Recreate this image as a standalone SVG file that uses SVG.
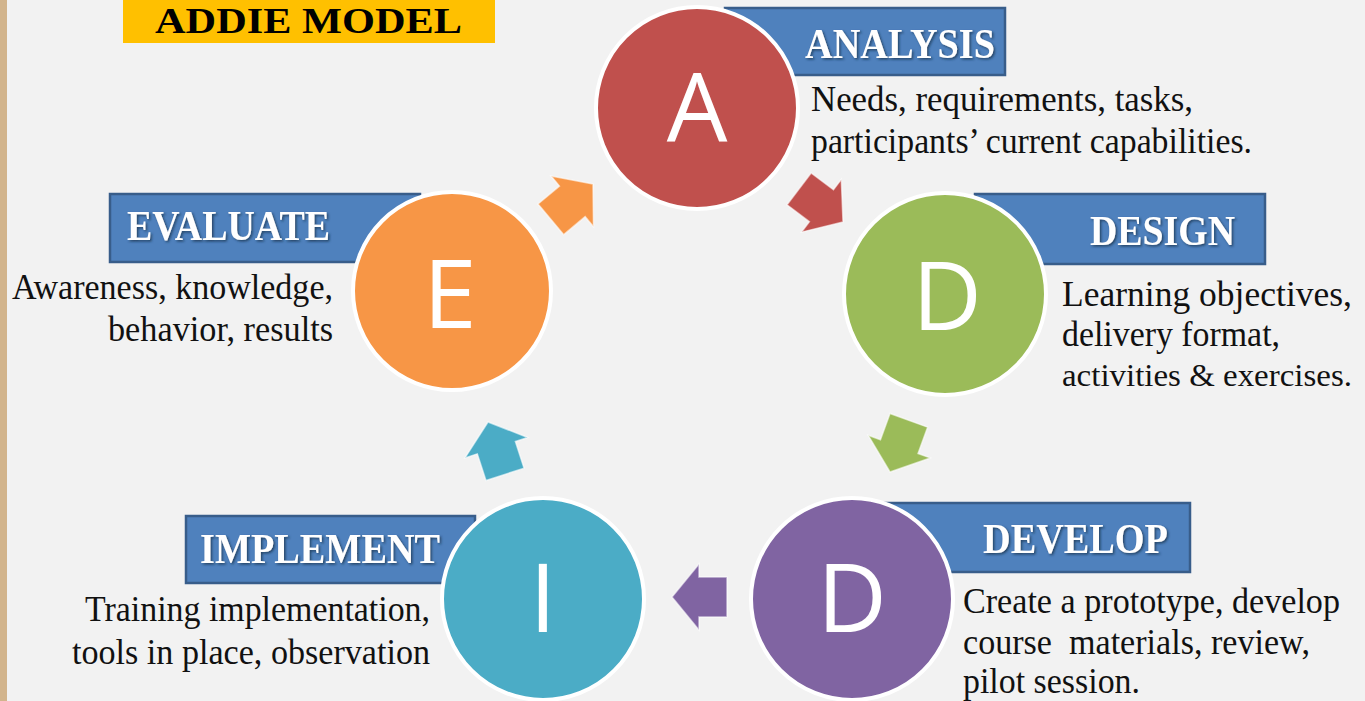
<svg xmlns="http://www.w3.org/2000/svg" width="1365" height="701" viewBox="0 0 1365 701">
<defs>
<style>
.banner{fill:#4f81bd;stroke:#385d8a;stroke-width:2.5}
.bt{font-family:"Liberation Serif","Times New Roman",serif;font-weight:bold;font-size:42px;fill:#ffffff;filter:url(#sh)}
.body{font-family:"Liberation Serif","Times New Roman",serif;font-size:36px;fill:#111111}
.circ{stroke:#ffffff;stroke-width:4}
.let{font-family:"Open Sans","Liberation Sans",sans-serif;font-size:96px;fill:#ffffff;text-anchor:middle}
.arr{stroke:#ffffff;stroke-width:1.5;stroke-opacity:0.6}
</style>
<filter id="sh" x="-10%" y="-20%" width="130%" height="150%">
<feDropShadow dx="1.5" dy="1.5" stdDeviation="1" flood-color="#1f3550" flood-opacity="0.8"/>
</filter>
<polygon id="arrow" points="0,0 -27,-33 -27,-20 -55,-20 -55,20 -27,20 -27,33"/>
</defs>
<rect x="0" y="0" width="1365" height="701" fill="#f2f2f2"/>
<rect x="0" y="0" width="7" height="701" fill="#d2b48c"/>

<g id="title">
<rect x="123" y="-2" width="372" height="45" fill="#ffc000"/>
<text x="155" y="33" font-family="Liberation Serif,serif" font-weight="bold" font-size="36" fill="#000" textLength="307" lengthAdjust="spacingAndGlyphs">ADDIE MODEL</text>
</g>

<g id="connectors">
<use href="#arrow" class="arr" fill="#c0504d" transform="translate(843,222) rotate(37)"/>
<use href="#arrow" class="arr" fill="#9bbb59" transform="translate(890,472) rotate(110)"/>
<use href="#arrow" class="arr" fill="#8064a2" transform="translate(672,597) rotate(180)"/>
<use href="#arrow" class="arr" fill="#4bacc6" transform="translate(488,422) rotate(-108)"/>
<use href="#arrow" class="arr" fill="#f79646" transform="translate(593,184) rotate(-40)"/>
</g>

<g id="analysis">
<rect class="banner" x="725" y="8" width="280" height="67"/>
<circle class="circ" cx="697" cy="108" r="101" fill="#c0504d"/>
<text class="let" x="697" y="142">A</text>
<text class="bt" x="805" y="58" textLength="190" lengthAdjust="spacingAndGlyphs">ANALYSIS</text>
<text class="body" x="811" y="111" textLength="382" lengthAdjust="spacingAndGlyphs">Needs, requirements, tasks,</text>
<text class="body" x="811" y="153" textLength="441" lengthAdjust="spacingAndGlyphs">participants’ current capabilities.</text>
</g>

<g id="design">
<rect class="banner" x="975" y="194" width="290" height="70"/>
<circle class="circ" cx="945" cy="294" r="101" fill="#9bbb59"/>
<text class="let" x="947" y="330">D</text>
<text class="bt" x="1090" y="245" textLength="145" lengthAdjust="spacingAndGlyphs">DESIGN</text>
<text class="body" x="1062" y="306" textLength="290" lengthAdjust="spacingAndGlyphs">Learning objectives,</text>
<text class="body" x="1062" y="346" textLength="218" lengthAdjust="spacingAndGlyphs">delivery format,</text>
<text class="body" x="1062" y="386" style="font-size:31px" textLength="290" lengthAdjust="spacingAndGlyphs">activities &amp; exercises.</text>
</g>

<g id="develop">
<rect class="banner" x="880" y="503" width="310" height="69"/>
<circle class="circ" cx="852" cy="599" r="101" fill="#8064a2"/>
<text class="let" x="852" y="632">D</text>
<text class="bt" x="983" y="553" textLength="185" lengthAdjust="spacingAndGlyphs">DEVELOP</text>
<text class="body" x="963" y="613" textLength="377" lengthAdjust="spacingAndGlyphs">Create a prototype, develop</text>
<text class="body" x="963" y="654" textLength="347" lengthAdjust="spacingAndGlyphs" xml:space="preserve">course  materials, review,</text>
<text class="body" x="963" y="693" textLength="177" lengthAdjust="spacingAndGlyphs">pilot session.</text>
</g>

<g id="implement">
<rect class="banner" x="186" y="516" width="289" height="67"/>
<circle class="circ" cx="543" cy="599" r="101" fill="#4bacc6"/>
<text class="let" x="543" y="632">I</text>
<text class="bt" x="200" y="563" textLength="240" lengthAdjust="spacingAndGlyphs">IMPLEMENT</text>
<text class="body" x="85" y="621" textLength="345" lengthAdjust="spacingAndGlyphs">Training implementation,</text>
<text class="body" x="72" y="664" textLength="358" lengthAdjust="spacingAndGlyphs">tools in place, observation</text>
</g>

<g id="evaluate">
<rect class="banner" x="110" y="194" width="310" height="68"/>
<circle class="circ" cx="452" cy="291" r="99" fill="#f79646"/>
<text class="let" x="450" y="328">E</text>
<text class="bt" x="127" y="240" textLength="203" lengthAdjust="spacingAndGlyphs">EVALUATE</text>
<text class="body" x="12" y="299" textLength="321" lengthAdjust="spacingAndGlyphs">Awareness, knowledge,</text>
<text class="body" x="108" y="341" textLength="225" lengthAdjust="spacingAndGlyphs">behavior, results</text>
</g>
</svg>
